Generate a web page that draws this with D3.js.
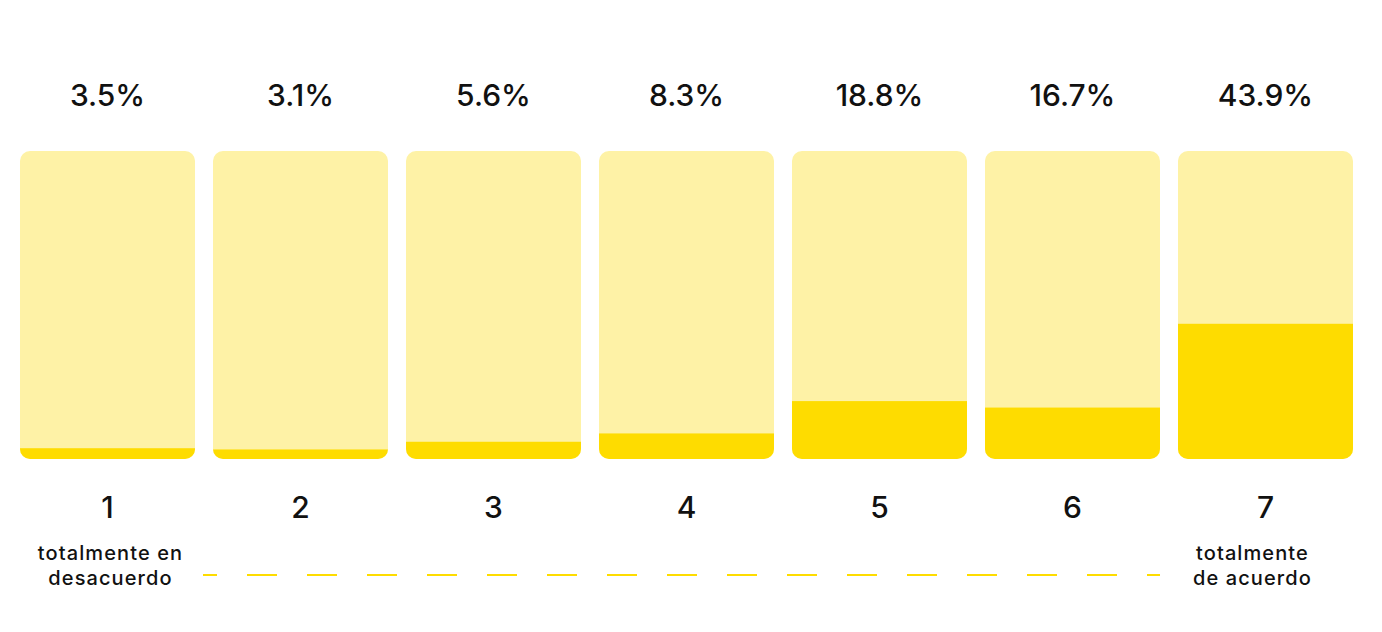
<!DOCTYPE html>
<html>
<head>
<meta charset="utf-8">
<script src="https://cdn.jsdelivr.net/npm/d3@7"></script>
<style>
	body { margin: 0; background: #fff; }
	svg text { font-family: 'Inter', 'Lato', sans-serif; fill: #111; }
</style>
</head>
<body>
<svg id="chart" width="1382" height="632"></svg>
<script>

var categories = [ '1', '2', '3', '4', '5', '6', '7' ];
var values = [ 3.5, 3.1, 5.6, 8.3, 18.8, 16.7, 43.9 ];
var leftLabel = [ 'totalmente en', 'desacuerdo' ];
var rightLabel = [ 'totalmente', 'de acuerdo' ];

var svg = d3.select( '#chart' );

var x = d3.scaleBand().domain( categories ).range( [ 20, 1353 ] ).paddingInner( 0.093 ).paddingOuter( 0 );
var y = d3.scaleLinear().domain( [ 0, 100 ] ).range( [ 459, 151 ] );

var data = categories.map( function ( c, i ) { return { cat: c, value: values[i] }; } );

var defs = svg.append( 'defs' );
defs.selectAll( 'clipPath' )
	.data( data )
	.enter()
	.append( 'clipPath' )
	.attr( 'id', function ( d, i ) { return 'clip-' + i; } )
	.append( 'rect' )
	.attr( 'x', function ( d ) { return x( d.cat ); } )
	.attr( 'y', y( 100 ) )
	.attr( 'width', x.bandwidth() )
	.attr( 'height', y( 0 ) - y( 100 ) )
	.attr( 'rx', 10 );

var cols = svg.selectAll( 'g.col' )
	.data( data )
	.enter()
	.append( 'g' )
	.classed( 'col', true )
	.attr( 'clip-path', function ( d, i ) { return 'url(#clip-' + i + ')'; } );

cols.append( 'rect' )
	.attr( 'x', function ( d ) { return x( d.cat ); } )
	.attr( 'y', y( 100 ) )
	.attr( 'width', x.bandwidth() )
	.attr( 'height', y( 0 ) - y( 100 ) )
	.style( 'fill', '#fef2a6' );

cols.append( 'rect' )
	.attr( 'x', function ( d ) { return x( d.cat ); } )
	.attr( 'y', function ( d ) { return y( d.value ); } )
	.attr( 'width', x.bandwidth() )
	.attr( 'height', function ( d ) { return y( 0 ) - y( d.value ); } )
	.style( 'fill', '#fedc00' );

// percentages on top
svg.selectAll( 'text.pct' )
	.data( data )
	.enter()
	.append( 'text' )
	.classed( 'pct', true )
	.attr( 'x', function ( d ) { return x( d.cat ) + x.bandwidth() / 2; } )
	.attr( 'y', 106 )
	.attr( 'text-anchor', 'middle' )
	.style( 'font-size', '30px' )
	.style( 'font-weight', 500 )
	.text( function ( d ) { return d.value.toFixed( 1 ) + '%'; } );

// category numbers
svg.selectAll( 'text.cat' )
	.data( data )
	.enter()
	.append( 'text' )
	.classed( 'cat', true )
	.attr( 'x', function ( d ) { return x( d.cat ) + x.bandwidth() / 2; } )
	.attr( 'y', 518 )
	.attr( 'text-anchor', 'middle' )
	.style( 'font-size', '30px' )
	.style( 'font-weight', 500 )
	.text( function ( d ) { return d.cat; } );

var addLabel = function ( lines, cx ) {
	var t = svg.append( 'text' )
		.attr( 'text-anchor', 'middle' )
		.style( 'font-size', '20px' )
		.style( 'font-weight', 500 )
		.style( 'letter-spacing', '1.1px' );
	lines.forEach( function ( l, i ) {
		t.append( 'tspan' )
			.attr( 'x', cx )
			.attr( 'y', 560 + i * 25 )
			.text( l );
	} );
};

addLabel( leftLabel, x( '1' ) + x.bandwidth() / 2 + 3 );
addLabel( rightLabel, x( '7' ) + x.bandwidth() / 2 - 13 );

// dashed scale line
svg.append( 'line' )
	.attr( 'x1', 203 )
	.attr( 'x2', x( '6' ) + x.bandwidth() )
	.attr( 'y1', 575 )
	.attr( 'y2', 575 )
	.style( 'stroke', '#fedc00' )
	.style( 'stroke-width', 2 )
	.style( 'stroke-dasharray', '30,30' )
	.style( 'stroke-dashoffset', 16 );

</script>
</body>
</html>
